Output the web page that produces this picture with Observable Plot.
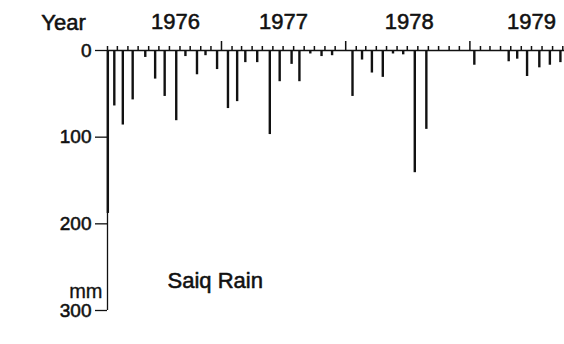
<!DOCTYPE html>
<html>
<head>
<meta charset="utf-8">
<script src="https://cdn.jsdelivr.net/npm/d3@7"></script>
<script src="https://cdn.jsdelivr.net/npm/@observablehq/plot@0.6"></script>
<style>
  html, body { margin: 0; padding: 0; background: #fff; }
  #chart svg { display: block; }
</style>
</head>
<body>
<div id="chart"></div>
<script>
// Rainfall events (mm)
const dates = ["1976-02-02","1976-02-21","1976-03-17","1976-04-15","1976-05-22","1976-06-20","1976-07-18","1976-08-21","1976-09-17","1976-10-21","1976-11-15","1976-12-19",
               "1977-01-20","1977-02-16","1977-03-12","1977-04-16","1977-05-23","1977-06-21","1977-07-26","1977-08-18","1977-09-19","1977-10-22","1977-11-22",
               "1978-01-21","1978-02-18","1978-03-19","1978-04-20","1978-05-20","1978-06-19","1978-07-23","1978-08-26",
               "1979-01-14","1979-04-25","1979-05-20","1979-06-18","1979-07-24","1979-08-24","1979-09-24"];
const rain = [188,64,86,57,8,33,53,81,7,28,6,22,
              67,59,14,14,97,36,16,36,4,7,6,
              53,11,26,31,4,5,141,91,
              17,13,10,30,20,17,14];
const yearLabels = ["1976","1977","1978","1979"];
const yearLabelDates = ["1976-08-19","1977-07-02","1978-07-07","1979-07-01"];
const yTicks = [0,100,200,300];
const xStart = "1976-02-01", xEnd = "1979-10-06";

const parse = d3.utcParse("%Y-%m-%d");
const data = dates.map((d, i) => ({date: parse(d), value: rain[i]}));
const start = parse(xStart), end = parse(xEnd);
const monthTicks = d3.utcMonth.range(start, end).filter(d => d.getUTCMonth() !== 0);
const yearTicks = d3.utcYear.range(start, end);
const ink = "#111";
const font = "'Liberation Sans', Arial, sans-serif";
const heavy = {fill: ink, stroke: ink, strokeWidth: 0.55};

const chart = Plot.plot({
  width: 564,
  height: 344,
  marginLeft: 107,
  marginRight: 0,
  marginTop: 50,
  marginBottom: 34,
  style: {fontFamily: font, background: "#fff", color: ink, overflow: "visible"},
  x: {type: "utc", domain: [start, end], range: [107, 564]},
  y: {type: "linear", domain: [0, 300], range: [50, 310]},
  marks: [
    Plot.axisX({anchor: "top", ticks: monthTicks, tickSize: 5, tickFormat: () => "", label: null, strokeWidth: 1.5}),
    Plot.axisX({anchor: "top", ticks: yearTicks, tickSize: 10, tickFormat: () => "", label: null, strokeWidth: 1.5}),
    Plot.axisY({ticks: yTicks, tickSize: 12, tickFormat: () => "", label: null, strokeWidth: 1.3}),
    Plot.text(yTicks, {y: d => d, text: d => String(d), frameAnchor: "left", dx: -16, textAnchor: "end", fontSize: 19, ...heavy}),
    Plot.ruleY([0], {stroke: ink, strokeWidth: 1.5}),
    Plot.ruleX([start], {stroke: ink, strokeWidth: 1.3}),
    Plot.ruleX(data, {x: "date", y1: 0, y2: "value", stroke: ink, strokeWidth: 2.4}),
    Plot.text(yearLabels, {x: yearLabelDates.map(parse), text: d => d, frameAnchor: "top", dy: -22, lineAnchor: "bottom", fontSize: 22, ...heavy}),
    Plot.text(["Year"], {frameAnchor: "top-left", dx: -44, dy: -21, lineAnchor: "bottom", textAnchor: "middle", fontSize: 22, ...heavy, style: "letter-spacing:1px"}),
    Plot.text(["Saiq Rain"], {frameAnchor: "bottom-left", dx: 60, dy: -23, lineAnchor: "bottom", textAnchor: "start", fontSize: 22, ...heavy, style: "letter-spacing:2px"}),
    Plot.text(["mm"], {frameAnchor: "bottom-left", dx: -5, dy: -13, lineAnchor: "bottom", textAnchor: "end", fontSize: 20, fill: ink, stroke: ink, strokeWidth: 0.3})
  ]
});
document.getElementById("chart").append(chart);
</script>
</body>
</html>
